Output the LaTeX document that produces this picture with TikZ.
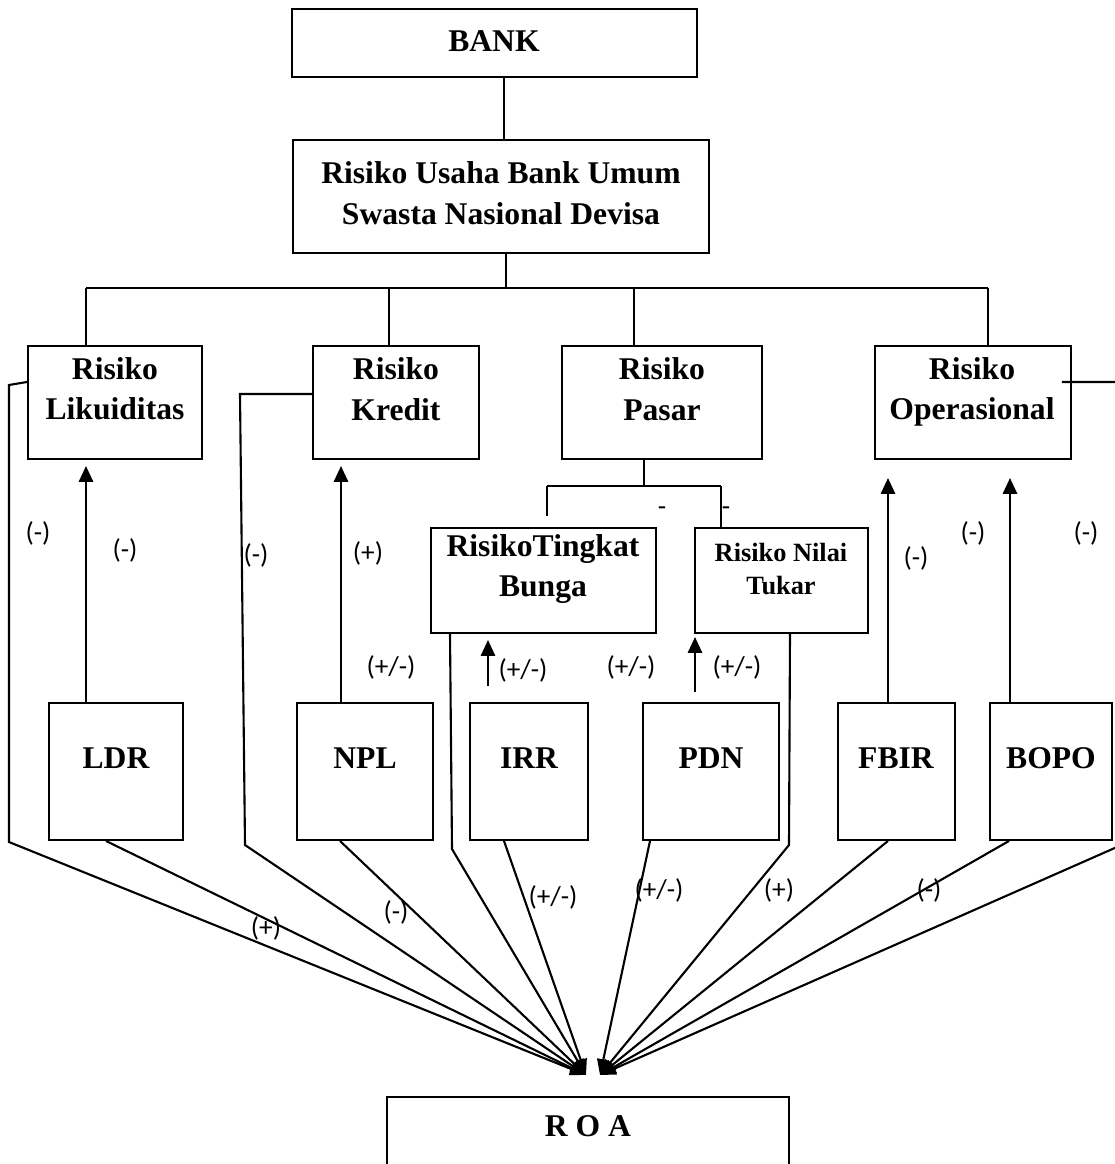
\documentclass[tikz,border=0pt]{standalone}
\usepackage{fontspec}
\setmainfont{Liberation Serif}
\newfontfamily\signfont{Carlito}
\usetikzlibrary{arrows.meta, fit, calc}

\tikzset{
  box/.style={draw, line width=1.1pt, inner sep=0pt},
  boxtext/.style={font=\fontsize{18}{23}\selectfont\bfseries, align=center, inner sep=0pt},
  smalltext/.style={font=\fontsize{15}{18.7}\selectfont\bfseries, align=center, inner sep=0pt},
  sign/.style={font=\signfont\fontsize{15.5}{18}\selectfont, inner sep=0pt},
  link/.style={line width=1pt},
  up/.style={line width=1.4pt, -{Triangle[length=9pt,width=8pt]}},
  toroa/.style={line width=1.2pt, -{Triangle[length=9pt,width=7pt]}}
}

\begin{document}
\begin{tikzpicture}[x=0.02cm,y=-0.02cm]
\useasboundingbox (0,0) rectangle (1115,1164);

% top of the tree
\node[box, fit={(292,9) (697,77)}] (bank) {};
\node[boxtext] (bank-t) at (494,41) {BANK};
\node[box, fit={(293,140) (709,253)}] (usaha) {};
\node[boxtext] (usaha-t) at (501,193) {Risiko Usaha Bank Umum\\Swasta Nasional Devisa};

% risk boxes
\node[box, fit={(28,346) (202,459)}] (liku) {};
\node[boxtext] (liku-t) at (115,389) {Risiko\\Likuiditas};
\node[box, fit={(313,346) (479,459)}] (kred) {};
\node[boxtext] (kred-t) at (396,389) {Risiko\\Kredit};
\node[box, fit={(562,346) (762,459)}] (pasar) {};
\node[boxtext] (pasar-t) at (662,389) {Risiko\\Pasar};
\node[box, fit={(875,346) (1071,459)}] (oper) {};
\node[boxtext] (oper-t) at (972,392) {Risiko\\Operasional};

\node[box, fit={(431,528) (656,633)}] (tb) {};
\node[boxtext] (tb-t) at (543,569) {RisikoTingkat\\Bunga};
\node[box, fit={(695,528) (868,633)}] (nt) {};
\node[smalltext] (nt-t) at (781,569) {Risiko Nilai\\Tukar};

% ratio boxes
\node[box, fit={(49,703) (183,840)}] (ldr) {};
\node[boxtext] (ldr-t) at (116,758) {LDR};
\node[box, fit={(297,703) (433,840)}] (npl) {};
\node[boxtext] (npl-t) at (365,758) {NPL};
\node[box, fit={(470,703) (588,840)}] (irr) {};
\node[boxtext] (irr-t) at (529,758) {IRR};
\node[box, fit={(643,703) (779,840)}] (pdn) {};
\node[boxtext] (pdn-t) at (711,758) {PDN};
\node[box, fit={(838,703) (955,840)}] (fbir) {};
\node[boxtext] (fbir-t) at (896,758) {FBIR};
\node[box, fit={(990,703) (1112,840)}] (bopo) {};
\node[boxtext] (bopo-t) at (1051,758) {BOPO};

\node[box, fit={(387,1097) (789,1190)}] (roa) {};
\node[boxtext] (roa-t) at (588,1126) {R O A};

\coordinate (hitL) at (586,1075);
\coordinate (hitR) at (600,1075);

% tree lines
\draw[link] (bank.south -| 504,0) -- (usaha.north -| 504,0);
\draw[link] (usaha.south -| 506,0) -- (506,288);
\draw[link] (86,288) -- (988,288);
\draw[link] (86,288) -- (liku.north -| 86,0);
\draw[link] (389,288) -- (kred.north -| 389,0);
\draw[link] (634,288) -- (pasar.north -| 634,0);
\draw[link] (988,288) -- (oper.north -| 988,0);
\draw[link] (pasar.south -| 644,0) -- (644,486);
\draw[link] (547,486) -- (721,486);
\draw[link] (547,486) -- (547,516);
\draw[link] (721,486) -- (nt.north -| 721,0);
\node[sign] (dash1) at (662,511) {-};
\node[sign] (dash2) at (726,511) {-};

% ratio to risk
\draw[up, shorten >=0.12cm] (ldr.north -| 86,0) -- (liku.south -| 86,0);
\draw[up, shorten >=0.12cm] (npl.north -| 341,0) -- (kred.south -| 341,0);
\draw[up, shorten <=0.32cm, shorten >=0.12cm] (irr.north -| 488,0) -- (tb.south -| 488,0);
\draw[up, shorten <=0.2cm, shorten >=0.06cm] (pdn.north -| 695,0) -- (nt.south -| 695,0);
\draw[up, shorten >=0.36cm] (fbir.north -| 888,0) -- (oper.south -| 888,0);
\draw[up, shorten >=0.36cm] (bopo.north -| 1010,0) -- (oper.south -| 1010,0);

% everything into ROA
\draw[toroa] (liku.west |- 0,382) -- (9,385) -- (9,842) -- (hitL);
\draw[toroa] (ldr.south -| 106,0) -- (hitL);
\draw[toroa] (kred.west |- 0,394) -- (240,394) -- (245,845) -- (hitL);
\draw[toroa] (npl.south -| 340,0) -- (hitL);
\draw[toroa] (tb.south -| 450,0) -- (452,849) -- (hitL);
\draw[toroa] (irr.south -| 504,0) -- (hitL);
\draw[toroa] (pdn.south -| 650,0) -- (hitR);
\draw[toroa] (nt.south -| 790,0) -- (789,845) -- (hitR);
\draw[toroa] (fbir.south -| 888,0) -- (hitR);
\draw[toroa] (bopo.south -| 1009,0) -- (hitR);
\draw[toroa] ($(oper.east |- 0,382)+(-10,0)$) -- (1117,382) -- (1117,847) -- (hitR);

% signs
\node[sign] (s1) at (38,533) {(-)};
\node[sign] (s2) at (125,550) {(-)};
\node[sign] (s3) at (256,555) {(-)};
\node[sign] (s4) at (368,553) {(+)};
\node[sign] (s5) at (391,667) {(+/-)};
\node[sign] (s6) at (523,670) {(+/-)};
\node[sign] (s7) at (631,667) {(+/-)};
\node[sign] (s8) at (737,667) {(+/-)};
\node[sign] (s9) at (916,558) {(-)};
\node[sign] (s10) at (973,533) {(-)};
\node[sign] (s11) at (1086,533) {(-)};
\node[sign] (s12) at (266,928) {(+)};
\node[sign] (s13) at (396,912) {(-)};
\node[sign] (s14) at (553,897) {(+/-)};
\node[sign] (s15) at (659,890) {(+/-)};
\node[sign] (s16) at (779,890) {(+)};
\node[sign] (s17) at (929,890) {(-)};
\end{tikzpicture}
\end{document}
